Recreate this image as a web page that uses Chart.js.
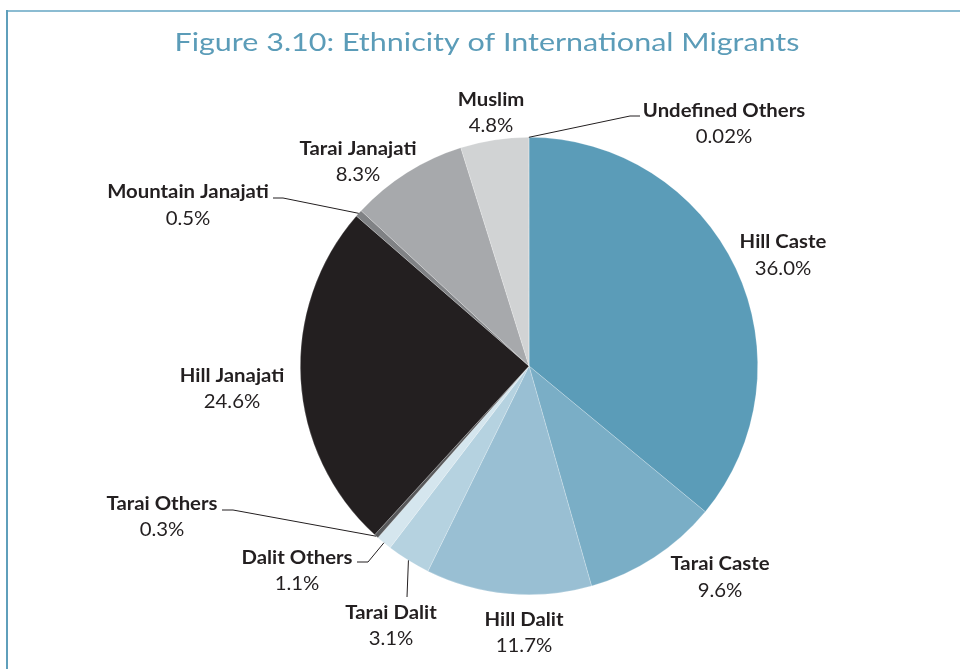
<!DOCTYPE html>
<html>
<head>
<meta charset="utf-8">
<script src="https://cdn.jsdelivr.net/npm/chart.js@4.4.1/dist/chart.umd.min.js"></script>
<style>
html,body{margin:0;padding:0;background:#fff;}
#wrap{position:relative;width:960px;height:669px;}
</style>
</head>
<body>
<div id="wrap"><canvas id="c" width="960" height="669"></canvas></div>
<script>
const titleText = 'Figure 3.10: Ethnicity of International Migrants';
const categories = ['Hill Caste','Tarai Caste','Hill Dalit','Tarai Dalit','Dalit Others','Tarai Others','Hill Janajati','Mountain Janajati','Tarai Janajati','Muslim','Undefined Others'];
const values = [36.0, 9.6, 11.7, 3.1, 1.1, 0.3, 24.6, 0.5, 8.3, 4.8, 0.02];
const valueLabels = ['36.0%','9.6%','11.7%','3.1%','1.1%','0.3%','24.6%','0.5%','8.3%','4.8%','0.02%'];
const colors = ['#5b9cb8','#7aaec6','#99bfd3','#b5d2e0','#d5e6ee','#58595b','#231f20','#808285','#a7a9ac','#d1d3d4','#9d9fa2'];

// label layout: [centerX, nameY, valueY]
const labelPos = [
  [783,242,269],[720,564,591],[524,620,646],[391,613,639],[297,558,584],
  [162,504,530],[232,376,402],[188,192,219],[358,149,175],[491,100,126],[724,111,137]
];
// leader lines: list of points after the slice anchor (null = none)
const leaders = [null,null,null,[[407,597]],[[368,562],[357,562]],[[233,510],[222,510]],null,[[283,198],[273,198]],null,null,[[630,116],[640,116]]];

function stretchText(ctx, txt, x, y, sx){
  ctx.save();
  ctx.translate(x,y);
  ctx.scale(sx,1);
  ctx.fillText(txt,0,0);
  ctx.restore();
}

const labelPlugin = {
  id:'labels',
  afterDraw(chart){
    const ctx = chart.ctx;
    ctx.save();
    // frame
    ctx.fillStyle = '#8bbcd2';
    ctx.fillRect(6,10,954,2);
    ctx.fillStyle = '#5f9fbb';
    ctx.fillRect(6,10,2,659);
    // title
    ctx.fillStyle = '#5b9cb8';
    ctx.font = '400 25px Lato';
    ctx.textAlign = 'center';
    ctx.textBaseline = 'middle';
    const tw = ctx.measureText(titleText).width;
    stretchText(ctx, titleText, 487, 43, 625/tw);
    const meta = chart.getDatasetMeta(0);
    ctx.strokeStyle = '#231f20';
    ctx.lineWidth = 1;
    meta.data.forEach((arc,i)=>{
      const p = labelPos[i];
      ctx.fillStyle = '#231f20';
      ctx.font = '700 19px Lato';
      stretchText(ctx, categories[i], p[0], p[1], 1.07);
      ctx.font = '400 19px Lato';
      stretchText(ctx, valueLabels[i], p[0], p[2], 1.07);
      if (leaders[i]) {
        const mid = (arc.startAngle+arc.endAngle)/2;
        const r = arc.outerRadius;
        ctx.beginPath();
        ctx.moveTo(arc.x+Math.cos(mid)*r, arc.y+Math.sin(mid)*r);
        leaders[i].forEach(q=>ctx.lineTo(q[0],q[1]));
        ctx.stroke();
      }
    });
    ctx.restore();
  }
};

new Chart(document.getElementById('c'),{
  type:'pie',
  data:{labels:categories,datasets:[{data:values,backgroundColor:colors,borderColor:'rgba(255,255,255,0.35)',borderWidth:0.6}]},
  options:{
    responsive:false,animation:false,
    layout:{padding:{left:300,right:202,top:137,bottom:74}},
    plugins:{legend:{display:false},tooltip:{enabled:false},title:{display:false}}
  },
  plugins:[labelPlugin]
});
</script>
</body>
</html>
